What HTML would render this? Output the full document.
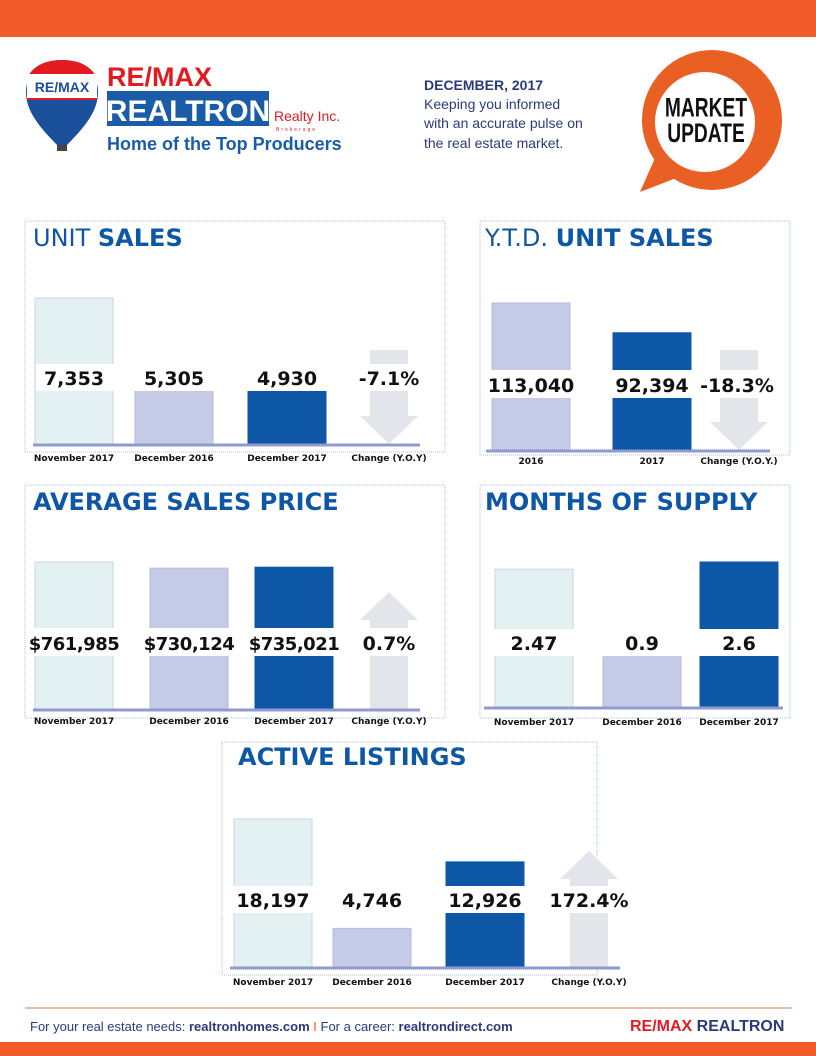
<!DOCTYPE html>
<html><head><meta charset="utf-8">
<style>
body{margin:0;width:816px;height:1056px;overflow:hidden;background:#fff;font-family:"Liberation Sans",sans-serif}
svg{display:block}
.val{font-family:"DejaVu Sans","Liberation Sans",sans-serif;font-weight:bold;font-size:19px;fill:#111}
.valS{font-family:"DejaVu Sans","Liberation Sans",sans-serif;font-weight:bold;font-size:18px;fill:#111;letter-spacing:-0.5px}
.lab{font-family:"DejaVu Sans","Liberation Sans",sans-serif;font-weight:bold;font-size:9px;fill:#111}
.ttl{font-family:"DejaVu Sans","Liberation Sans",sans-serif;font-weight:bold;font-size:24px;fill:#0d57a6}
.ttlL{font-family:"DejaVu Sans","Liberation Sans",sans-serif;font-weight:normal;font-size:24px;fill:#0d57a6}
</style></head><body>
<svg id="pg" width="816" height="1056" viewBox="0 0 816 1056">
<rect x="0" y="0" width="816" height="37" fill="#f15a2b"/>
<g>
 <path d="M62,150 C40,128 26,112 26,92 C26,72 42,60 62,60 C82,60 98,72 98,92 C98,112 84,128 62,150 Z" fill="#1a4f9c"/>
 <path d="M27,78 C34,64 48,60 62,60 C76,60 90,64 97,78 L97,100 L27,100 Z" fill="#e21b23"/>
 <rect x="27" y="74" width="70" height="24" fill="#fff"/>
 <text x="62" y="92" text-anchor="middle" font-size="14" font-weight="bold" fill="#1a4f9c" font-family="Liberation Sans">RE/MAX</text>
 <rect x="57" y="145" width="10" height="6" fill="#444"/>
 <text x="107" y="86" font-size="27" font-weight="bold" fill="#e21b23" font-family="Liberation Sans">RE/MAX</text>
 <rect x="107" y="91" width="162" height="35" fill="#1a5ca8"/>
 <text x="188" y="121" text-anchor="middle" font-size="30" font-weight="bold" fill="#fff" font-family="Liberation Sans">REALTRON</text>
 <text x="274" y="121" font-size="14" fill="#e21b23" font-family="Liberation Sans">Realty Inc.</text>
 <text x="276" y="131" font-size="5" letter-spacing="2" fill="#e21b23" font-family="Liberation Sans">Brokerage</text>
 <text x="107" y="150" font-size="18" font-weight="bold" fill="#1a5ca8" font-family="Liberation Sans">Home of the Top Producers</text>
</g>
<g>
 <text x="424" y="90" font-size="14" font-weight="bold" fill="#2b3a7a" font-family="Liberation Sans">DECEMBER, 2017</text>
 <text x="424" y="109" font-size="14" fill="#2b3a7a" font-family="Liberation Sans">Keeping you informed</text>
 <text x="424" y="128" font-size="14" fill="#2b3a7a" font-family="Liberation Sans">with an accurate pulse on</text>
 <text x="424" y="148" font-size="14" fill="#2b3a7a" font-family="Liberation Sans">the real estate market.</text>
</g>
<g>
 <path d="M655,158 L640,192 L692,172 Z" fill="#ea5f24"/>
 <circle cx="712" cy="120" r="70" fill="#ea5f24"/>
 <circle cx="705" cy="122" r="50" fill="#fff"/>
 <text x="706" y="112" text-anchor="middle" font-size="24" font-weight="bold" fill="#111" font-family="Liberation Sans" transform="translate(706,0) scale(0.8,1.1) translate(-706,-6)">MARKET</text>
 <text x="706" y="138" text-anchor="middle" font-size="24" font-weight="bold" fill="#111" font-family="Liberation Sans" transform="translate(706,0) scale(0.8,1.1) translate(-706,-9)">UPDATE</text>
</g>
<g id="charts"></g>
<line x1="25" y1="1008" x2="792" y2="1008" stroke="#e3a58a" stroke-width="1.5"/>
<text x="30" y="1031" font-size="13" fill="#2b3a7a" font-family="Liberation Sans">For your real estate needs: <tspan font-weight="bold">realtronhomes.com</tspan> <tspan fill="#f15a2b">I</tspan> For a career: <tspan font-weight="bold">realtrondirect.com</tspan></text>
<text x="630" y="1031" font-size="16" font-weight="bold" fill="#e21b23" font-family="Liberation Sans">RE/MAX <tspan fill="#2b3a7a">REALTRON</tspan></text>
<rect x="0" y="1042" width="816" height="14" fill="#f15a2b"/>
</svg>
<script>
const NS="http://www.w3.org/2000/svg";
// Unit sales
const unitCats=["November 2017","December 2016","December 2017"];
const unitVals=[7353,5305,4930];
const unitLabels=["7,353","5,305","4,930"];
const unitChange=-7.1;
// YTD
const ytdCats=["2016","2017"];
const ytdVals=[113040,92394];
const ytdLabels=["113,040","92,394"];
const ytdChange=-18.3;
// Avg price
const priceCats=["November 2017","December 2016","December 2017"];
const priceVals=[761985,730124,735021];
const priceLabels=["$761,985","$730,124","$735,021"];
const priceChange=0.7;
// Months supply
const supplyCats=["November 2017","December 2016","December 2017"];
const supplyVals=[2.47,0.9,2.6];
const supplyLabels=["2.47","0.9","2.6"];
// Active listings
const activeCats=["November 2017","December 2016","December 2017"];
const activeVals=[18197,4746,12926];
const activeLabels=["18,197","4,746","12,926"];
const activeChange=172.4;

const fills=[["#e3f1f3","#c9d6e0"],["#c5cae6","#b5bbde"],["#0d57a6","#0d57a6"]];
function mk(tag,attrs,parent){const e=document.createElementNS(NS,tag);for(const k in attrs)e.setAttribute(k,attrs[k]);parent.appendChild(e);return e;}
const root=document.getElementById('charts');

function panel(p){
  const g=mk('g',{},root);
  
  
  const box=mk('rect',{x:p.box[0],y:p.box[1],width:p.box[2],height:p.box[3],fill:'none',stroke:'#a9c3da','stroke-width':1,'stroke-dasharray':'1,1'},g);
  
  
  const t=mk('text',{x:p.tx,y:p.ty},g);
  
  
  if(p.light){const a=mk('tspan',{class:'ttlL'},t);a.textContent=p.light+' ';}
  const b=mk('tspan',{class:'ttl'},t);b.textContent=p.bold;
  const ys=v=>p.base-(v-p.d0)/(p.d1-p.d0)*p.hp;
  p.vals.forEach((v,i)=>{
    const x=p.xs[i], f=fills[p.colors[i]];
    const top=ys(v);
    const r=mk('rect',{x:x,y:top,width:p.bw,height:p.base-top,fill:f[0],stroke:f[1],'stroke-width':1},g);
    
    
    const l=mk('text',{x:x+p.bw/2,y:p.labY,'text-anchor':'middle',class:'lab'},g);
    l.textContent=p.cats[i];
    
    
  });
  if(p.change!==undefined){
    const ax=p.ax, aw=58, cx=ax+aw/2, up=p.change>=0;
    let d;
    if(up){d=`M${ax+10},${p.base} L${ax+10},${p.atop+28} L${ax},${p.atop+28} L${cx},${p.atop} L${ax+aw},${p.atop+28} L${ax+aw-10},${p.atop+28} L${ax+aw-10},${p.base} Z`;}
    else{d=`M${ax+10},${p.atop} L${ax+aw-10},${p.atop} L${ax+aw-10},${p.base-28} L${ax+aw},${p.base-28} L${cx},${p.base} L${ax},${p.base-28} L${ax+10},${p.base-28} Z`;}
    const ar=mk('path',{d:d,fill:'#e3e5ea'},g);
    
    
    const l=mk('text',{x:cx,y:p.labY,'text-anchor':'middle',class:'lab'},g);
    l.textContent=p.changeLab;
    
    
  }
  const band=mk('rect',{x:p.bandX[0],y:p.band[0],width:p.bandX[1]-p.bandX[0],height:p.band[1]-p.band[0],fill:'#fff'},g);
  
  
  p.labels.forEach((s,i)=>{
    const t=mk('text',{x:p.xs[i]+p.bw/2,y:p.band[1]-6,'text-anchor':'middle',class:p.vcls||'val'},g);
    t.textContent=s;
    
    
  });
  if(p.change!==undefined){
    const t=mk('text',{x:p.ax+29+(p.cOff||0),y:p.band[1]-6,'text-anchor':'middle',class:'val'},g);
    t.textContent=p.change.toFixed(1)+'%';
    
    
  }
  const bl=mk('line',{x1:p.line[0],x2:p.line[1],y1:p.base+1,y2:p.base+1,stroke:'#8f9bd0','stroke-width':3},g);
  
  
}

panel({name:'unit-sales-chart',box:[25,221,420,231],tx:33,ty:246,light:'UNIT',bold:'SALES',
 cats:unitCats,vals:unitVals,labels:unitLabels,colors:[0,1,2],xs:[35,135,248],bw:78,
 base:444,d0:3500,d1:7353,hp:146,change:unitChange,changeLab:'Change (Y.O.Y)',ax:360,atop:350,
 band:[364,391],bandX:[36,420],labY:461,line:[33,420]});
panel({name:'ytd-unit-sales-chart',box:[480,221,310,234],tx:485,ty:246,light:'Y.T.D.',bold:'UNIT SALES',
 cats:ytdCats,vals:ytdVals,labels:ytdLabels,colors:[1,2],xs:[492,613],bw:78,
 base:450,d0:11000,d1:113040,hp:147,change:ytdChange,changeLab:'Change (Y.O.Y.)',ax:710,atop:350,cOff:-2,
 band:[370,398],bandX:[488,772],labY:464,line:[486,770]});
panel({name:'average-sales-price-chart',box:[25,485,420,233],tx:33,ty:510,bold:'AVERAGE SALES PRICE',
 cats:priceCats,vals:priceVals,labels:priceLabels,colors:[0,1,2],xs:[35,150,255],bw:78,vcls:'valS',
 base:709,d0:0,d1:761985,hp:147,change:priceChange,changeLab:'Change (Y.O.Y)',ax:360,atop:592,
 band:[628,656],bandX:[26,420],labY:724,line:[33,420]});
panel({name:'months-of-supply-chart',box:[480,485,310,233],tx:485,ty:510,bold:'MONTHS OF SUPPLY',
 cats:supplyCats,vals:supplyVals,labels:supplyLabels,colors:[0,1,2],xs:[495,603,700],bw:78,
 base:707,d0:0,d1:2.6,hp:145,
 band:[629,656],bandX:[488,785],labY:725,line:[484,783]});
panel({name:'active-listings-chart',box:[222,742,375,233],tx:238,ty:765,bold:'ACTIVE LISTINGS',
 cats:activeCats,vals:activeVals,labels:activeLabels,colors:[0,1,2],xs:[234,333,446],bw:78,
 base:967,d0:0,d1:18197,hp:148,change:activeChange,changeLab:'Change (Y.O.Y)',ax:560,atop:851,
 band:[886,913],bandX:[232,640],labY:985,line:[230,620]});
</script>
</body></html>
